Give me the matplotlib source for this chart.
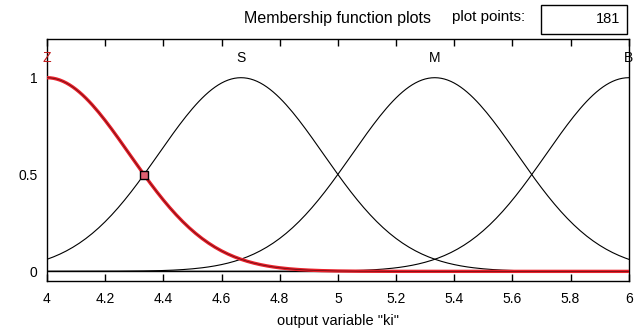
import numpy as np
import matplotlib
matplotlib.use('Agg')
import matplotlib.pyplot as plt
from matplotlib.patches import Rectangle

plt.rcParams['font.family'] = ['Liberation Sans', 'DejaVu Sans']

# membership functions of output variable "ki" (gaussmf: [sigma center])
mf_names = ['Z', 'S', 'M', 'B']
mf_sigmas = [0.2831, 0.2831, 0.2831, 0.2831]
mf_centers = [4.0, 4.667, 5.333, 6.0]
x_range = [4.0, 6.0]
plot_points = 181
selected = 0
x_ticks = [4, 4.2, 4.4, 4.6, 4.8, 5, 5.2, 5.4, 5.6, 5.8, 6]
x_tick_labels = ['4', '4.2', '4.4', '4.6', '4.8', '5', '5.2', '5.4', '5.6', '5.8', '6']
y_ticks = [0, 0.5, 1]
y_tick_labels = ['0', '0.5', '1']


def gaussmf(x, sigma, c):
    return np.exp(-(x - c) ** 2 / (2 * sigma ** 2))


fig = plt.figure(figsize=(6.4, 3.33), dpi=100)
ax = fig.add_axes([0.0734, 0.156, 0.909, 0.727])

x = np.linspace(x_range[0], x_range[1], plot_points)
ax.plot(x_range, [0, 0], color='black', lw=1.0)

for i, (name, s, c) in enumerate(zip(mf_names, mf_sigmas, mf_centers)):
    y = gaussmf(x, s, c)
    if i == selected:
        ax.plot(x, y, color='#e8202a', lw=2.4, zorder=3)
        ax.plot(x, y, color='black', lw=0.5, zorder=4, alpha=0.6)
        ax.text(c, 1.1, name, color='#c01818', ha='center', va='center', fontsize=10)
    else:
        ax.plot(x, y, color='black', lw=0.8)
        ax.text(c, 1.1, name, color='black', ha='center', va='center', fontsize=10)

# crossing point marker of the selected mf
x_cross = (mf_centers[0] + mf_centers[1]) / 2
ax.plot([x_cross], [gaussmf(x_cross, mf_sigmas[0], mf_centers[0])], marker='s',
        ms=6, mfc='#e06070', mec='black', mew=1.0, zorder=5)

ax.set_xlim(x_range)
ax.set_ylim(-0.05, 1.2)
ax.set_xticks(x_ticks)
ax.set_xticklabels(x_tick_labels, fontsize=10)
ax.set_yticks(y_ticks)
ax.set_yticklabels(y_tick_labels, fontsize=10)
ax.tick_params(axis='x', direction='in', length=5, top=True, pad=8, width=1)
ax.tick_params(axis='y', length=0, pad=7)
for sp in ax.spines.values():
    sp.set_linewidth(1.0)
ax.set_xlabel('output variable "ki"', fontsize=10.5, labelpad=6)

# header
fig.text(337 / 640, 1 - 18 / 333, 'Membership function plots', ha='center', va='center', fontsize=11.5)
fig.text(452 / 640, 1 - 17 / 333, 'plot points:', ha='left', va='center', fontsize=11)
fig.patches.append(Rectangle((541 / 640, 1 - 34 / 333), 86 / 640, 29 / 333,
                             transform=fig.transFigure, fill=False, lw=1.0, ec='black'))
fig.text(620 / 640, 1 - 19 / 333, str(plot_points), ha='right', va='center', fontsize=10.5)

fig.savefig('out.png', dpi=100, facecolor='white')
